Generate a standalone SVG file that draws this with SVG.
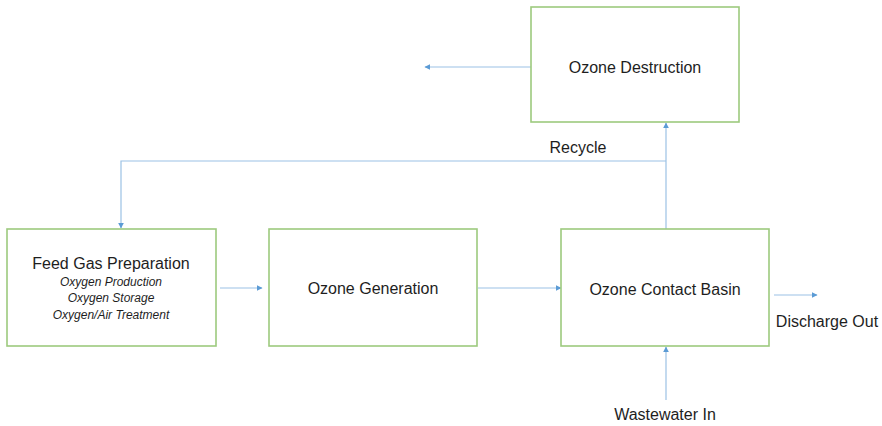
<svg xmlns="http://www.w3.org/2000/svg" width="882" height="426" viewBox="0 0 882 426">
<style>
.box{fill:#fff;stroke:#9dca7e;stroke-width:1.6}
.lbl{font-family:"Liberation Sans",Arial,sans-serif;font-size:16px;fill:#1e1e1e;text-anchor:middle}
.sub{font-family:"Liberation Sans",Arial,sans-serif;font-size:12px;font-style:italic;fill:#1e1e1e;text-anchor:middle}
.ln{fill:none;stroke:#9cc2e5;stroke-width:1.2}
</style>
<defs>
<marker id="ah" viewBox="0 0 10 10" refX="9" refY="5" markerWidth="6" markerHeight="6" markerUnits="userSpaceOnUse" orient="auto">
<path d="M0,0 L10,5 L0,10 z" fill="#5b9bd5"/>
</marker>
</defs>
<rect width="882" height="426" fill="#fff"/>
<g id="connectors">
<path class="ln" d="M531,67 H425" marker-end="url(#ah)"/>
<path class="ln" d="M666,229 V123" marker-end="url(#ah)"/>
<path class="ln" d="M666,161 H121 V228" marker-end="url(#ah)"/>
<path class="ln" d="M220,288 H262" marker-end="url(#ah)"/>
<path class="ln" d="M478,288 H561" marker-end="url(#ah)"/>
<path class="ln" d="M774,295 H817" marker-end="url(#ah)"/>
<path class="ln" d="M666,400 V347" marker-end="url(#ah)"/>
<text class="lbl" x="578" y="153">Recycle</text>
<text class="lbl" x="827" y="327">Discharge Out</text>
<text class="lbl" x="665" y="420">Wastewater In</text>
</g>
<g id="feed">
<rect class="box" x="7" y="229" width="209" height="117"/>
<text class="lbl" x="111" y="269">Feed Gas Preparation</text>
<text class="sub" x="111" y="286">Oxygen Production</text>
<text class="sub" x="111" y="302">Oxygen Storage</text>
<text class="sub" x="111" y="319">Oxygen/Air Treatment</text>
</g>
<g id="generation">
<rect class="box" x="269" y="229" width="208" height="117"/>
<text class="lbl" x="373" y="294">Ozone Generation</text>
</g>
<g id="contact">
<rect class="box" x="561" y="229" width="208" height="117"/>
<text class="lbl" x="665" y="295">Ozone Contact Basin</text>
</g>
<g id="destruction">
<rect class="box" x="531" y="7" width="208" height="115"/>
<text class="lbl" x="635" y="73">Ozone Destruction</text>
</g>
</svg>
